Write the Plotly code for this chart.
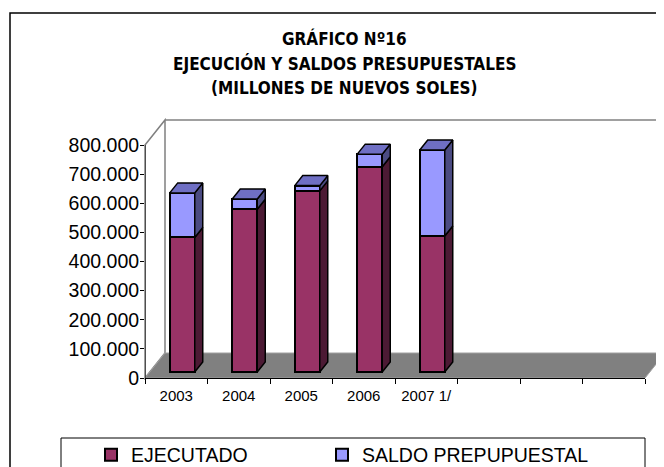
import plotly.graph_objects as go

# ---------------- data ----------------
categories = ["2003", "2004", "2005", "2006", "2007 1/"]
ejecutado = [462000, 559000, 622000, 705000, 467000]
saldo = [153000, 35000, 18000, 43000, 295000]
y_ticks = [0, 100000, 200000, 300000, 400000, 500000, 600000, 700000, 800000]
n_slots = 8  # category slots on the axis (last three empty)

title_lines = ["GRÁFICO Nº16", "EJECUCIÓN Y SALDOS PRESUPUESTALES", "(MILLONES DE NUEVOS SOLES)"]
names = ["EJECUTADO", "SALDO PREPUPUESTAL"]

# ---------------- geometry (pixels, in screenshot coordinates) ----------------
W, H = 664, 467
OFF = 8                    # page body margin around the figure
X0, X1 = 145, 645          # front x-axis extent
Y0 = 378                   # pixel of value 0 on front plane
KY = 233 / 800000          # px per unit
Y_MAX = 900000             # plot range top (room for bar tops)
SLOT = (X1 - X0) / n_slots
SX, SY = 6, 6              # bar offset into depth
DX, DY = 8, 10             # bar depth
FX, FY = 20, 25            # floor / wall depth
BAR_W = 0.4

def px(x):
    return (x - OFF) / W

def py(y):
    return 1 - (y - OFF) / H

ddx = DX / SLOT
ddy = DY / KY

# ---------------- colours ----------------
C_EJ, C_EJ_SIDE = "#993366", "#4C1A34"
C_SA, C_SA_SIDE, C_SA_TOP = "#9999FF", "#4B4B82", "#6F6FC4"
GRAY = "#808080"

fig = go.Figure()

# front faces (bars)
fig.add_trace(go.Bar(x=list(range(len(categories))), y=ejecutado, name=names[0],
                     width=BAR_W, marker=dict(color=C_EJ, line=dict(color="black", width=2)),
                     legendwidth=186, xaxis="x2", yaxis="y2"))
fig.add_trace(go.Bar(x=list(range(len(categories))), y=saldo, name=names[1],
                     width=BAR_W, marker=dict(color=C_SA, line=dict(color="black", width=2)),
                     legendwidth=260, xaxis="x2", yaxis="y2"))

# side and top faces computed from the data
def side_polys(lows, highs):
    xs, ys = [], []
    for i, (lo, hi) in enumerate(zip(lows, highs)):
        xr = i + BAR_W / 2
        xs += [xr, xr + ddx, xr + ddx, xr, xr, None]
        ys += [lo, lo + ddy, hi + ddy, hi, lo, None]
    return xs, ys

tops = [e + s for e, s in zip(ejecutado, saldo)]
xs, ys = side_polys([0] * len(ejecutado), ejecutado)
fig.add_trace(go.Scatter(x=xs, y=ys, mode="lines", fill="toself", fillcolor=C_EJ_SIDE,
                         line=dict(color="black", width=1.5), showlegend=False,
                         hoverinfo="skip", xaxis="x2", yaxis="y2"))
xs, ys = side_polys(ejecutado, tops)
fig.add_trace(go.Scatter(x=xs, y=ys, mode="lines", fill="toself", fillcolor=C_SA_SIDE,
                         line=dict(color="black", width=1.5), showlegend=False,
                         hoverinfo="skip", xaxis="x2", yaxis="y2"))
tx, ty = [], []
for i, t in enumerate(tops):
    xl, xr = i - BAR_W / 2, i + BAR_W / 2
    tx += [xl, xr, xr + ddx, xl + ddx, xl, None]
    ty += [t, t, t + ddy, t + ddy, t, None]
fig.add_trace(go.Scatter(x=tx, y=ty, mode="lines", fill="toself", fillcolor=C_SA_TOP,
                         line=dict(color="black", width=1.5), showlegend=False,
                         hoverinfo="skip", xaxis="x2", yaxis="y2"))

# ---------------- frame shapes ----------------
shapes = []
shapes.append(dict(type="rect", xref="paper", yref="paper", x0=px(10), y0=-0.05, x1=1.05, y1=py(13),
                   line=dict(color="black", width=1.5), fillcolor="rgba(0,0,0,0)", layer="below"))
y_top = Y0 - 800000 * KY
shapes.append(dict(type="path", xref="paper", yref="paper",
                   path=f"M{px(X0)},{py(y_top)} L{px(X0+FX)},{py(y_top-FY)} L{px(X0+FX)},{py(Y0-FY)} L{px(X0)},{py(Y0)} Z",
                   fillcolor="white", line=dict(color=GRAY, width=1.5), layer="below"))
shapes.append(dict(type="line", xref="paper", yref="paper", x0=px(X0+FX), y0=py(y_top-FY),
                   x1=px(X1+FX), y1=py(y_top-FY), line=dict(color=GRAY, width=1.5), layer="below"))
shapes.append(dict(type="path", xref="paper", yref="paper",
                   path=f"M{px(X0)},{py(Y0)} L{px(X1)},{py(Y0)} L{px(X1+FX)},{py(Y0-FY)} L{px(X0+FX)},{py(Y0-FY)} Z",
                   fillcolor=GRAY, line=dict(color="#A0A0A0", width=1), layer="below"))
shapes.append(dict(type="line", xref="x", yref="y", x0=-0.5, x1=-0.5, y0=0, y1=y_ticks[-1],
                   line=dict(color="black", width=1)))
shapes.append(dict(type="rect", xref="paper", yref="paper", x0=px(61), y0=-0.05, x1=px(645), y1=py(438),
                   line=dict(color="black", width=1), fillcolor="white"))

# ---------------- title ----------------
title_font = dict(family="DejaVu Sans Condensed, DejaVu Sans, sans-serif", size=17, color="black")
annotations = []
for line, yc in zip(title_lines, [38, 63, 88]):
    annotations.append(dict(text="<b>" + line + "</b>", xref="paper", yref="paper",
                            x=px(344), y=py(yc), xanchor="center", yanchor="middle",
                            showarrow=False, font=title_font))

x_shift = SX / SLOT
y_shift = SY / KY

fig.update_layout(
    width=W, height=H,
    margin=dict(l=0, r=0, t=0, b=0, autoexpand=False),
    paper_bgcolor="white", plot_bgcolor="rgba(0,0,0,0)",
    separators=",.",
    barmode="stack",
    shapes=shapes,
    annotations=annotations,
    font=dict(family="Liberation Sans, Arial, sans-serif", color="black"),
    xaxis=dict(domain=[px(X0), px(X1)], range=[-0.5, n_slots - 0.5], automargin=False,
               tickmode="array", tickvals=list(range(len(categories))), ticktext=categories,
               ticks="", showline=True, linecolor="black", linewidth=1, ticklabelstandoff=4,
               showgrid=False, zeroline=False, tickfont=dict(size=15),
               minor=dict(tickmode="array", tickvals=[k - 0.5 for k in range(n_slots + 1)],
                          ticks="outside", ticklen=5, tickcolor="black", showgrid=False),
               fixedrange=True),
    yaxis=dict(domain=[py(Y0), py(Y0 - Y_MAX * KY)], range=[0, Y_MAX], automargin=False,
               tickmode="array", tickvals=y_ticks, tickformat=",d",
               ticks="outside", ticklen=4, tickcolor="black", ticklabelstandoff=-3,
               showline=False, showgrid=False, zeroline=False, tickfont=dict(size=19.5)),
    xaxis2=dict(overlaying="x", range=[-0.5 - x_shift, n_slots - 0.5 - x_shift], visible=False),
    yaxis2=dict(overlaying="y", range=[-y_shift, Y_MAX - y_shift], visible=False),
    legend=dict(orientation="h", x=px(91), xanchor="left", y=py(455), yanchor="middle",
                bgcolor="rgba(0,0,0,0)", font=dict(size=19.5), traceorder="normal"),
)

fig.write_html("out.html")
